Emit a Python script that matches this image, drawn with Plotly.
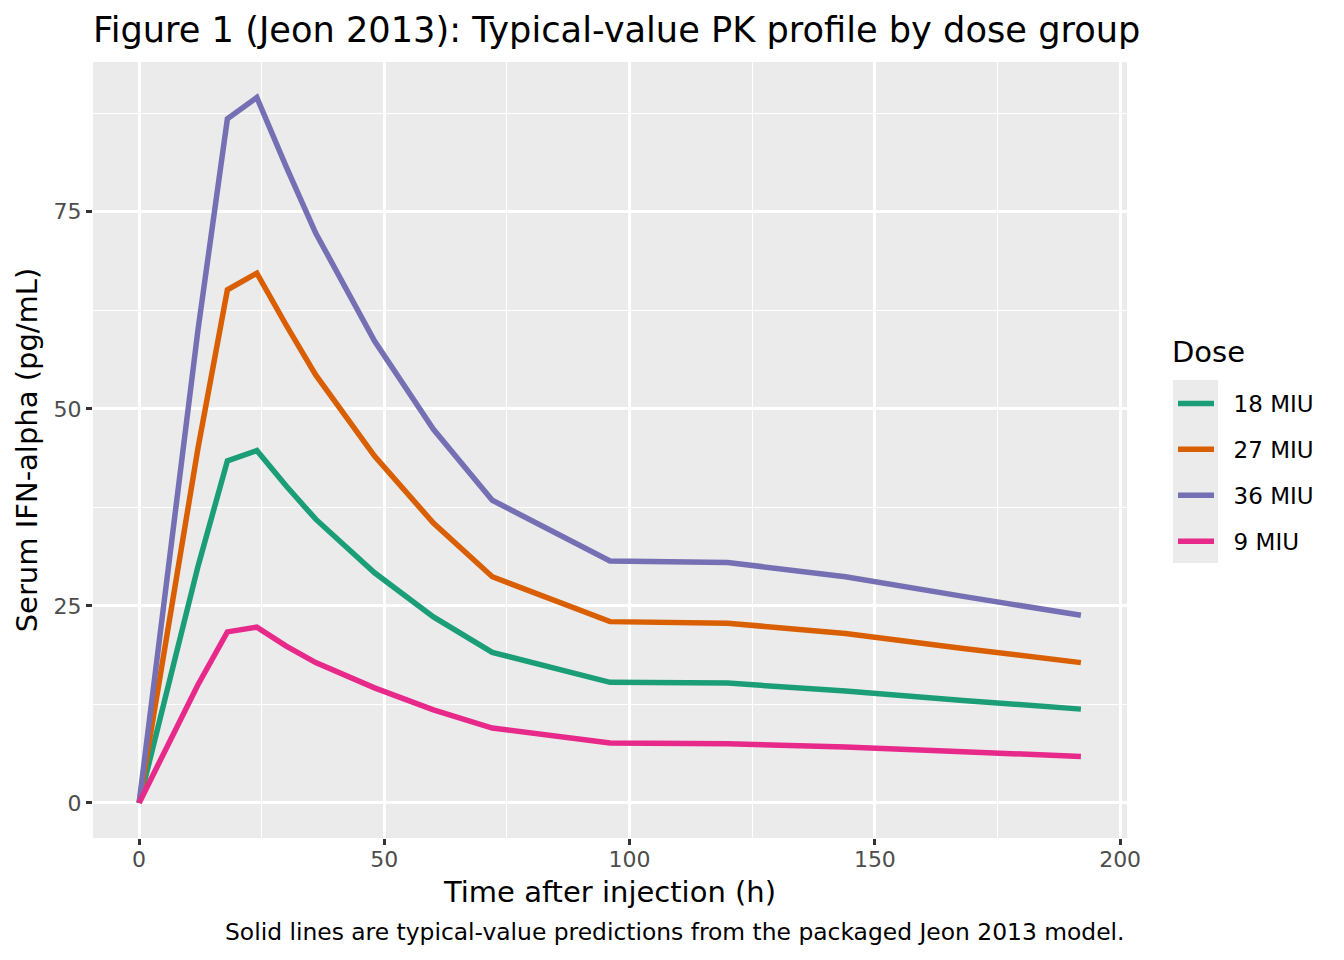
import plotly.graph_objects as go

time_h = [0, 12, 18, 24, 30, 36, 48, 60, 72, 96, 120, 144, 168, 192]
dose_labels = ["18 MIU", "27 MIU", "36 MIU", "9 MIU"]
conc_18 = [0, 30.0, 43.4, 44.7, 40.2, 36.0, 29.2, 23.6, 19.1, 15.3, 15.2, 14.2, 13.0, 11.9]
conc_27 = [0, 45.0, 65.1, 67.2, 60.6, 54.3, 44.0, 35.5, 28.7, 23.0, 22.8, 21.5, 19.6, 17.8]
conc_36 = [0, 60.0, 86.8, 89.5, 80.7, 72.3, 58.6, 47.4, 38.4, 30.7, 30.5, 28.7, 26.2, 23.8]
conc_9 = [0, 15.0, 21.7, 22.3, 19.9, 17.8, 14.6, 11.8, 9.5, 7.6, 7.5, 7.1, 6.5, 5.9]
series = [conc_18, conc_27, conc_36, conc_9]
colors = ["#1B9E77", "#D95F02", "#7570B3", "#E7298A"]

FONT = "DejaVu Sans"

fig = go.Figure()
for i, (lab, ys, col) in enumerate(zip(dose_labels, series, colors)):
    fig.add_trace(go.Scatter(
        x=time_h, y=ys, mode="lines", name="\u00a0\u00a0" + lab,
        line=dict(color=col, width=5.5),
        legendgroup=lab,
    ))

L, R, T, B = 93, 1127, 62, 838
W, H = 1344, 960
pw, ph = R - L, B - T

fig.update_layout(
    width=W, height=H,
    margin=dict(l=L, r=W - R, t=T, b=H - B),
    paper_bgcolor="white",
    plot_bgcolor="#EBEBEB",
    font=dict(family=FONT, color="black"),
    title=dict(
        text="Figure 1 (Jeon 2013): Typical-value PK profile by dose group",
        x=L / W, xanchor="left", xref="container",
        y=1 - 30 / H, yanchor="middle", yref="container",
        font=dict(size=35.2, family=FONT, color="black"),
    ),
    xaxis=dict(
        range=[-9.4, 201.4],
        tickvals=[0, 50, 100, 150, 200],
        ticks="outside", ticklen=6, tickwidth=2.8, tickcolor="#333333",
        tickfont=dict(size=22, color="#4D4D4D", family=FONT),
        ticklabelstandoff=-4,
        showgrid=True, gridcolor="white", gridwidth=2.8,
        minor=dict(tickvals=[25, 75, 125, 175], showgrid=True, gridcolor="white", gridwidth=1.4, ticks=""),
        zeroline=False, showline=False,
        title=dict(text="Time after injection (h)", font=dict(size=29, family=FONT, color="black"), standoff=10),
    ),
    yaxis=dict(
        range=[-4.45, 94.0],
        tickvals=[0, 25, 50, 75],
        ticks="outside", ticklen=6, tickwidth=2.8, tickcolor="#333333",
        tickfont=dict(size=22, color="#4D4D4D", family=FONT),
        showgrid=True, gridcolor="white", gridwidth=2.8,
        minor=dict(tickvals=[12.5, 37.5, 62.5, 87.5], showgrid=True, gridcolor="white", gridwidth=1.4, ticks=""),
        zeroline=False, showline=False,
        title=dict(text="Serum IFN-alpha (pg/mL)", font=dict(size=29, family=FONT, color="black"), standoff=7),
    ),
    legend=dict(
        font=dict(size=23, family=FONT, color="black"),
        x=(1173 - L) / pw, xanchor="left",
        y=(B - 382) / ph, yanchor="top",
        bgcolor="rgba(0,0,0,0)",
        traceorder="grouped",
        tracegroupgap=13,
        itemwidth=36,
    ),
    shapes=[dict(
        type="rect", xref="paper", yref="paper",
        x0=(1173 - L) / pw, x1=(1218 - L) / pw,
        y0=(B - 563) / ph, y1=(B - 380) / ph,
        fillcolor="#EBEBEB", line=dict(width=0), layer="below",
    )],
    annotations=[
        dict(
            text="Solid lines are typical-value predictions from the packaged Jeon 2013 model.",
            xref="paper", yref="paper", x=1, y=(B - 932) / ph,
            xanchor="right", yanchor="middle", showarrow=False,
            font=dict(size=23.4, family=FONT, color="black"),
        ),
        dict(
            text="Dose",
            xref="paper", yref="paper", x=(1173 - L) / pw - 0.003, y=(B - 352) / ph,
            xanchor="left", yanchor="middle", showarrow=False,
            font=dict(size=29, family=FONT, color="black"),
        ),
    ],
)

fig.write_html("out.html")
